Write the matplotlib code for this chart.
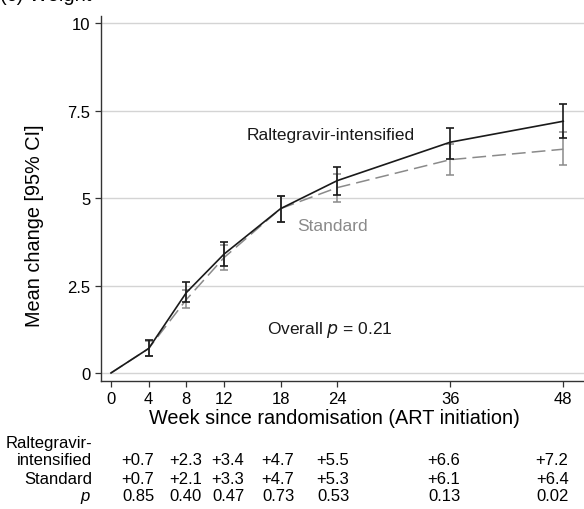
import numpy as np
import matplotlib
matplotlib.use('Agg')
import matplotlib.pyplot as plt
import matplotlib.transforms as mtransforms

plt.rcParams['font.family'] = ['Liberation Sans', 'DejaVu Sans']

# data
weeks = [0, 4, 8, 12, 18, 24, 36, 48]
ralt_mean = [0, 0.7, 2.3, 3.4, 4.7, 5.5, 6.6, 7.2]
ralt_lo = [0, 0.49, 2.02, 3.05, 4.33, 5.10, 6.12, 6.73]
ralt_hi = [0, 0.93, 2.60, 3.75, 5.07, 5.88, 7.00, 7.68]
std_mean = [0, 0.7, 2.1, 3.3, 4.7, 5.3, 6.1, 6.4]
std_lo = [0, 0.48, 1.85, 2.95, 4.33, 4.90, 5.65, 5.95]
std_hi = [0, 0.92, 2.38, 3.65, 5.07, 5.70, 6.55, 6.88]

# table under the plot
ralt_txt = ['+0.7', '+2.3', '+3.4', '+4.7', '+5.5', '+6.6', '+7.2']
std_txt = ['+0.7', '+2.1', '+3.3', '+4.7', '+5.3', '+6.1', '+6.4']
p_txt = ['0.85', '0.40', '0.47', '0.73', '0.53', '0.13', '0.02']
col_x = [2.87, 7.96, 12.42, 17.73, 23.57, 35.35, 46.82]  # column centres (weeks)

W, H = 584, 510
fig = plt.figure(figsize=(W / 100, H / 100), dpi=100)
ax = fig.add_axes([101 / W, 1 - 382 / H, 1 - 101 / W, (382 - 17) / H])

def fy(py):
    return 1 - py / H

def fx(px):
    return px / W

blk = '#1a1a1a'
gry = '#8a8a8a'

w = np.array(weeks)
rm, rl, rh = np.array(ralt_mean), np.array(ralt_lo), np.array(ralt_hi)
sm, sl, sh = np.array(std_mean), np.array(std_lo), np.array(std_hi)

ax.plot(w, sm, color=gry, lw=1.1, dashes=(9, 4), zorder=3)
ax.errorbar(w[1:], sm[1:], yerr=[sm[1:] - sl[1:], sh[1:] - sm[1:]], fmt='none',
            ecolor=gry, elinewidth=1.1, capsize=2.8, capthick=1.1, zorder=3)
ax.plot(w, rm, color=blk, lw=1.2, zorder=4)
ax.errorbar(w[1:], rm[1:], yerr=[rm[1:] - rl[1:], rh[1:] - rm[1:]], fmt='none',
            ecolor=blk, elinewidth=1.2, capsize=2.8, capthick=1.2, zorder=4)

ax.set_xlim(-1.06, 50.2)
ax.set_ylim(-0.23, 10.21)
ax.set_xticks(weeks)
ax.set_yticks([0, 2.5, 5, 7.5, 10])
ax.set_yticklabels(['0', '2.5', '5', '7.5', '10'])
ax.grid(axis='y', color='#d4d4d4', lw=1.0)
ax.set_axisbelow(True)
for s in ['top', 'right']:
    ax.spines[s].set_visible(False)
for s in ['left', 'bottom']:
    ax.spines[s].set_color('#333333')
    ax.spines[s].set_linewidth(1.0)
ax.tick_params(axis='both', length=4.5, width=0.9, color='#333333', labelsize=12, pad=3)

fig.text(0.0, fy(5), '(c) Weight', fontsize=14.5, ha='left', va='bottom')
fig.text(fx(35), fy(226), 'Mean change [95% CI]', fontsize=14.3, rotation=90,
         ha='center', va='center')
fig.text(fx(334), fy(419), 'Week since randomisation (ART initiation)', fontsize=14.3,
         ha='center', va='center')

ax.text(fx(331), fy(136), 'Raltegravir-intensified', transform=fig.transFigure,
        fontsize=12.5, color=blk, ha='center', va='center')
ax.text(fx(333), fy(227), 'Standard', transform=fig.transFigure,
        fontsize=12.5, color=gry, ha='center', va='center')
ax.text(fx(330), fy(330), 'Overall $\\it{p}$ = 0.21', transform=fig.transFigure,
        fontsize=12.5, color=blk, ha='center', va='center')

tr = mtransforms.blended_transform_factory(ax.transData, fig.transFigure)
fs = 12
fig.text(fx(92), fy(448), 'Raltegravir-', fontsize=fs, ha='right', va='baseline')
fig.text(fx(92), fy(465), 'intensified', fontsize=fs, ha='right', va='baseline')
fig.text(fx(92), fy(484), 'Standard', fontsize=fs, ha='right', va='baseline')
fig.text(fx(90), fy(501), 'p', fontsize=fs, style='italic', ha='right', va='baseline')
for x, a, b, c in zip(col_x, ralt_txt, std_txt, p_txt):
    ax.text(x, fy(465), a, transform=tr, fontsize=fs, ha='center', va='baseline')
    ax.text(x, fy(484), b, transform=tr, fontsize=fs, ha='center', va='baseline')
    ax.text(x, fy(501), c, transform=tr, fontsize=fs, ha='center', va='baseline')

fig.savefig('out.png', dpi=100)
